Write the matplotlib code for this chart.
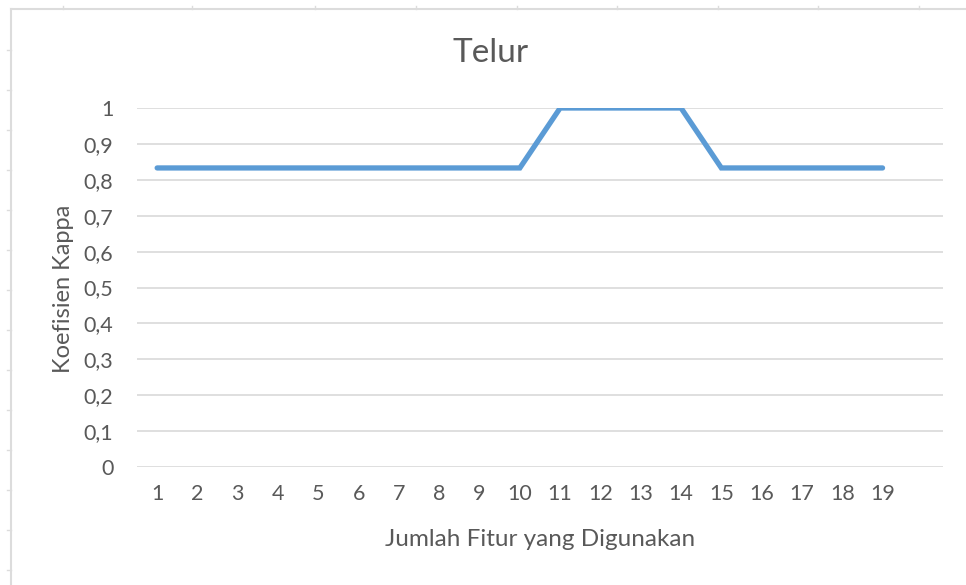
import matplotlib.pyplot as plt
from matplotlib.lines import Line2D

# data
jumlah_fitur = list(range(1, 20))
kappa = [0.833] * 10 + [1.0] * 4 + [0.833] * 5
y_ticks = [0, 0.1, 0.2, 0.3, 0.4, 0.5, 0.6, 0.7, 0.8, 0.9, 1]
y_labels = ['0', '0,1', '0,2', '0,3', '0,4', '0,5', '0,6', '0,7', '0,8', '0,9', '1']

plt.rcParams['font.family'] = ['Lato', 'DejaVu Sans']
teks = '#595959'
grid = '#D9D9D9'

W, H = 966, 585
fig = plt.figure(figsize=(W / 100, H / 100), dpi=100)
ax = fig.add_axes([137 / W, 1 - 467 / H, (943 - 137) / W, (467 - 108) / H])

for y in y_ticks:
    ax.axhline(y, color=grid, lw=1.2, zorder=1)

ax.plot(jumlah_fitur, kappa, color='#5B9BD5', lw=3.8, solid_joinstyle='miter',
        solid_capstyle='round', zorder=3)

ax.set_xlim(0.5, 20.5)
ax.set_ylim(0, 1)
ax.set_xticks(jumlah_fitur)
ax.set_xticklabels([str(v) for v in jumlah_fitur])
ax.set_yticks(y_ticks)
ax.set_yticklabels(y_labels)
ax.tick_params(length=0, labelsize=15.5, colors=teks)
ax.tick_params(axis='x', pad=12)
ax.tick_params(axis='y', pad=17)
for s in ax.spines.values():
    s.set_visible(False)

ax.set_xlabel('Jumlah Fitur yang Digunakan', fontsize=17.5, color=teks, va='center')
ax.set_ylabel('Koefisien Kappa', fontsize=17, color=teks, va='center')
ax.xaxis.set_label_coords(0.5, (467 - 540) / 359)
ax.yaxis.set_label_coords((63 - 137) / 806, 0.497)
fig.text(491 / W, 1 - 53 / H, 'Telur', fontsize=24, color=teks, ha='center', va='center')

# page frame of the screenshot
frame = '#DCDCDC'
fig.add_artist(Line2D([11 / W, 1], [1 - 9 / H, 1 - 9 / H], color=frame, lw=1.5))
fig.add_artist(Line2D([11 / W, 11 / W], [0, 1 - 9 / H], color=frame, lw=1.5))
for x in [63, 192, 315, 416, 517, 617, 718, 818, 919]:
    fig.add_artist(Line2D([x / W, x / W], [1 - 9 / H, 1 - 6 / H], color=frame, lw=1))
for y in range(50, 585, 40):
    fig.add_artist(Line2D([7 / W, 11 / W], [1 - y / H, 1 - y / H], color=frame, lw=1))

fig.savefig('out.png', dpi=100, facecolor='white')
